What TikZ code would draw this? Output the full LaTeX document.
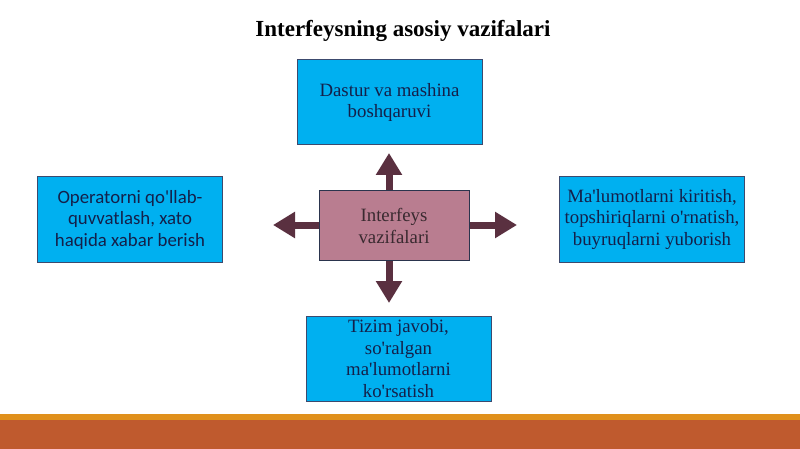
\documentclass[tikz,border=0pt]{standalone}
\usepackage{fontspec}
\setmainfont{Liberation Serif}[Ligatures=TeXOff]
\newfontfamily\leftfont{Carlito}
\usetikzlibrary{arrows.meta}
\definecolor{boxfill}{HTML}{00B0F0}
\definecolor{boxline}{HTML}{3C4A6E}
\definecolor{boxtext}{HTML}{14204A}
\definecolor{cenfill}{HTML}{B97D90}
\definecolor{centext}{HTML}{3A2A30}
\definecolor{arrowcol}{HTML}{5A3040}
\definecolor{barline}{HTML}{E0901C}
\definecolor{barfill}{HTML}{BF5A2E}
\tikzset{
  bluebox/.style={draw=boxline, line width=1pt, fill=boxfill, text=boxtext, align=center,
    minimum width=185pt, minimum height=85pt, inner sep=1pt, font=\fontsize{18.8}{21.5}\selectfont},
  cenbox/.style={draw=boxline!70!black, line width=1pt, fill=cenfill, text=centext, align=center,
    minimum width=150pt, minimum height=70pt, font=\fontsize{18.8}{22}\selectfont},
  bigarrow/.style={draw=arrowcol, line width=7pt, -{Triangle[width=25pt,length=22pt]}, arrowcol},
}
\begin{document}
\begin{tikzpicture}[x=1pt,y=-1pt]
\useasboundingbox (0,0) rectangle (800,449);
\fill[white] (0,0) rectangle (800,449);
% bottom bar
\fill[barline] (0,414) rectangle (800,420);
\fill[barfill] (0,420) rectangle (800,449);
% title
\node[font=\bfseries\fontsize{23}{26}\selectfont] (title) at (403,31) {Interfeysning asosiy vazifalari};
% boxes
\node[bluebox] (top) at (389.5,102.5) {Dastur va mashina\\boshqaruvi};
\node[bluebox, font=\leftfont\fontsize{18.8}{21.5}\selectfont] (left) at (130,219.5) {Operatorni qo'llab-\\quvvatlash, xato\\haqida xabar berish};
\node[bluebox] (right) at (652,219.5) {Ma'lumotlarni kiritish,\\topshiriqlarni o'rnatish,\\buyruqlarni yuborish};
\node[bluebox] (bottom) at (398.5,358.5) {Tizim javobi,\\so'ralgan\\ma'lumotlarni\\ko'rsatish};
\node[cenbox] (center) at (394,225.5) {Interfeys\\vazifalari};
% arrow tips
\coordinate (tipN) at (389,153);
\coordinate (tipS) at (389,303);
\coordinate (tipW) at (273,225);
\coordinate (tipE) at (517,225);
\draw[bigarrow] (center.north -| tipN) -- (tipN);
\draw[bigarrow] (center.south -| tipS) -- (tipS);
\draw[bigarrow] (center.west |- tipW) -- (tipW);
\draw[bigarrow] (center.east |- tipE) -- (tipE);
\end{tikzpicture}
\end{document}
